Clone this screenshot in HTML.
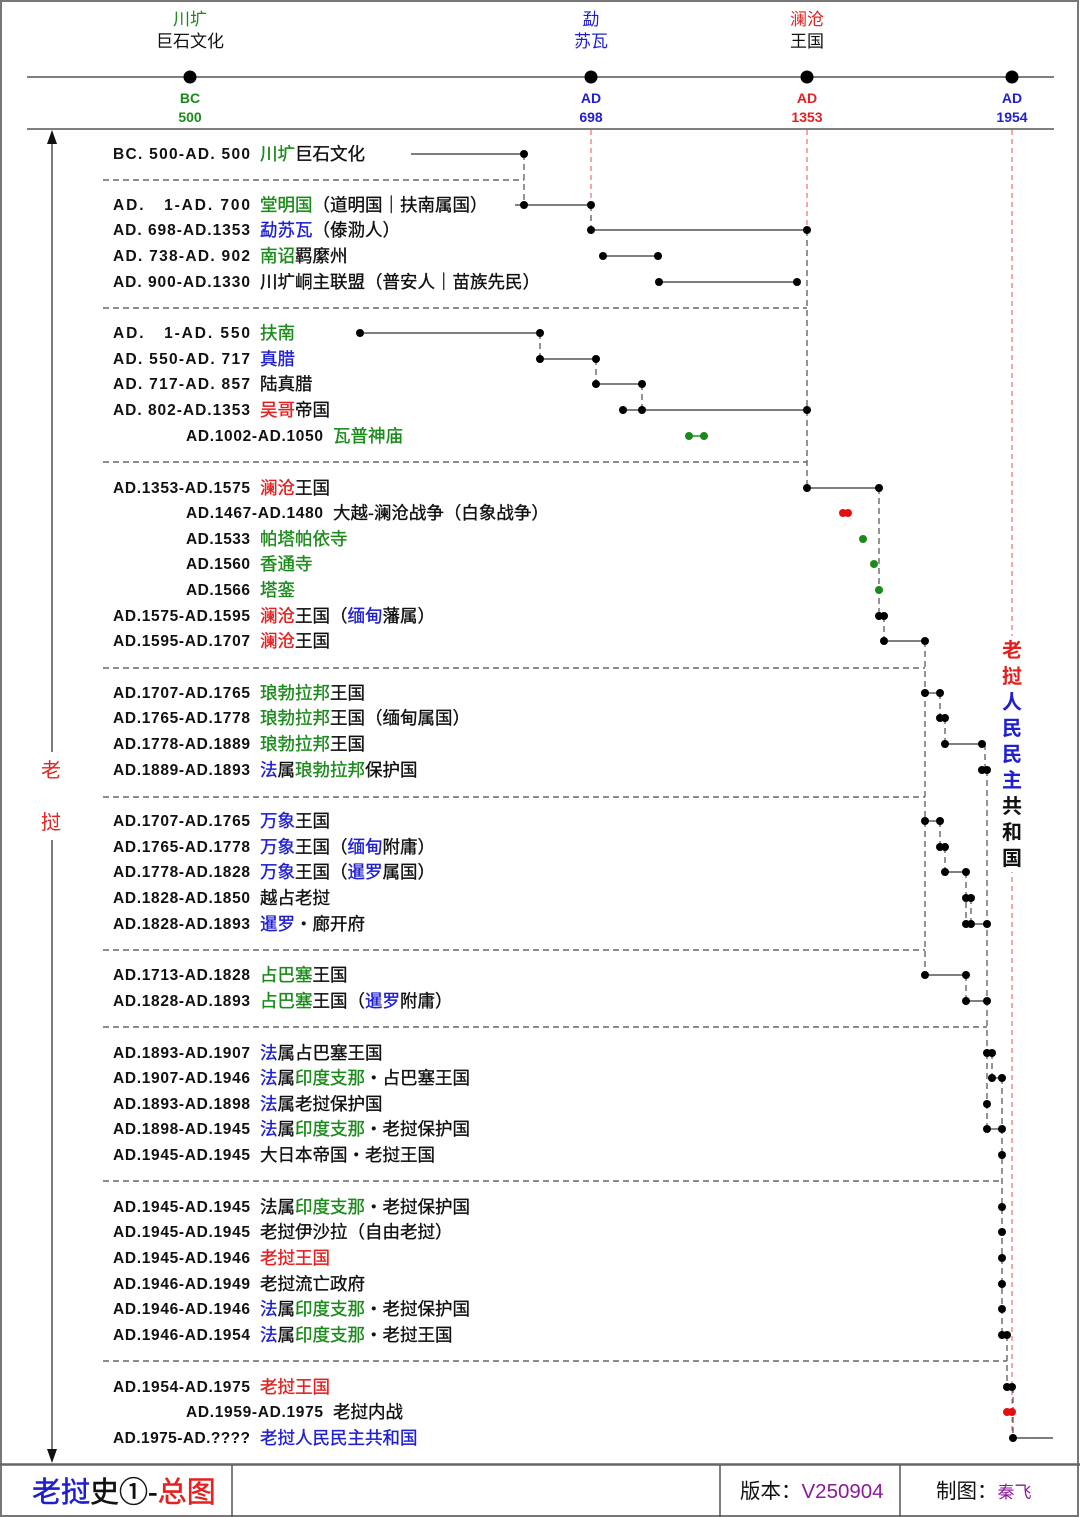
<!DOCTYPE html>
<html><head><meta charset="utf-8"><style>
html,body{margin:0;padding:0;background:#fff}
svg{display:block}
text{font-family:"Liberation Sans","Noto Sans CJK SC",sans-serif;}
.d{font-size:15.5px;fill:#111;font-weight:bold}
.n{font-size:17.5px;fill:#111;stroke-width:0.35}
.n .g,.n.g{stroke:#1a8a1a}.n .b,.n.b{stroke:#1f1fd0}.n .r,.n.r{stroke:#e42020}.n .k,.n.k{stroke:#111}
.g{fill:#1a8a1a}.b{fill:#1f1fd0}.r{fill:#e42020}.k{fill:#111}
.ln{stroke:#555;stroke-width:1.4}
.ds{stroke:#666;stroke-width:1.4;stroke-dasharray:6,4;fill:none}
.rd{stroke:#e05050;stroke-width:1;stroke-dasharray:5,4}
</style></head><body>
<svg width="1080" height="1517" viewBox="0 0 1080 1517" xmlns="http://www.w3.org/2000/svg">
<rect x="1" y="1" width="1077" height="1515" fill="#fff" stroke="#777" stroke-width="2"/>
<line x1="27" y1="77" x2="1054" y2="77" class="ln"/>
<line x1="27" y1="129" x2="1054" y2="129" class="ln"/>
<g fill="#000"><circle cx="190" cy="77" r="6.5"/><circle cx="591" cy="77" r="6.5"/><circle cx="807" cy="77" r="6.5"/><circle cx="1012" cy="77" r="6.5"/></g>
<g font-size="17" text-anchor="middle">
<text x="190" y="25" class="g">川圹</text><text x="190" y="47" class="k">巨石文化</text>
<text x="591" y="25" class="b">勐</text><text x="591" y="47" class="b">苏瓦</text>
<text x="807" y="25" class="r">澜沧</text><text x="807" y="47" class="k">王国</text>
</g>
<g font-size="14" text-anchor="middle" font-weight="bold">
<text x="190" y="103" class="g">BC</text><text x="190" y="122" class="g">500</text>
<text x="591" y="103" class="b">AD</text><text x="591" y="122" class="b">698</text>
<text x="807" y="103" class="r">AD</text><text x="807" y="122" class="r">1353</text>
<text x="1012" y="103" class="b">AD</text><text x="1012" y="122" class="b">1954</text>
</g>
<line x1="591" y1="130" x2="591" y2="205" class="rd"/>
<line x1="807" y1="130" x2="807" y2="230" class="rd"/>
<line x1="1012" y1="130" x2="1012" y2="1438" class="rd"/>
<line x1="52" y1="140" x2="52" y2="1452" stroke="#444" stroke-width="1.4"/>
<polygon points="52,130 47,144 57,144" fill="#111"/>
<polygon points="52,1463 47,1449 57,1449" fill="#111"/>
<rect x="38" y="752" width="28" height="88" fill="#fff"/>
<g font-size="20" class="r" text-anchor="middle"><text x="51" y="777">老</text><text x="51" y="829">挝</text></g>
<rect x="1000" y="636" width="26" height="236" fill="#fff"/>
<g font-size="20" text-anchor="middle" font-weight="bold">
<text x="1012" y="657" class="r">老</text><text x="1012" y="683" class="r">挝</text>
<text x="1012" y="709" class="b">人</text><text x="1012" y="735" class="b">民</text><text x="1012" y="761" class="b">民</text><text x="1012" y="787" class="b">主</text>
<text x="1012" y="813" class="k">共</text><text x="1012" y="839" class="k">和</text><text x="1012" y="865" class="k">国</text>
</g>
<g class="ds">
<path d="M103 180H524"/><path d="M103 308H807"/><path d="M103 462H807"/><path d="M103 668H925"/>
<path d="M103 797H925"/><path d="M103 950H925"/><path d="M103 1027H987"/><path d="M103 1181H1002"/><path d="M103 1361H1007"/>
<path d="M524 154V205"/><path d="M591 205V230"/><path d="M807 230V488"/>
<path d="M540 333V359"/><path d="M596 359V384"/><path d="M642 384V410"/>
<path d="M879 488V616"/><path d="M884 616V641"/><path d="M925 641V975"/>
<path d="M940 693V718"/><path d="M945 718V744"/><path d="M985 744V770"/><path d="M987 770V1053"/>
<path d="M940 821V847"/><path d="M945 847V872"/><path d="M966 872V924"/><path d="M971 898V924"/><path d="M966 975V1001"/>
<path d="M987 1053V1129"/><path d="M992 1053V1078"/><path d="M1002 1078V1335"/><path d="M1007 1335V1387"/><path d="M1013 1387V1438"/>
</g>
<g class="ln">
<path d="M411 154H524"/><path d="M515 205H591"/><path d="M591 230H807"/><path d="M603 256H658"/><path d="M659 282H797"/>
<path d="M360 333H540"/><path d="M540 359H596"/><path d="M596 384H642"/><path d="M623 410H807"/><path d="M689 436H704" stroke="#1a8a1a"/>
<path d="M807 488H879"/><path d="M884 641H925"/>
<path d="M925 693H940"/><path d="M945 744H985"/>
<path d="M925 821H940"/><path d="M945 872H966"/><path d="M971 924H987"/>
<path d="M925 975H966"/><path d="M966 1001H987"/>
<path d="M992 1078H1002"/><path d="M987 1129H1002"/><path d="M1013 1438H1053"/>
</g>
<g fill="#000">
<circle cx="524" cy="154" r="4"/>
<circle cx="524" cy="205" r="4"/><circle cx="591" cy="205" r="4"/>
<circle cx="591" cy="230" r="4"/><circle cx="807" cy="230" r="4"/>
<circle cx="603" cy="256" r="4"/><circle cx="658" cy="256" r="4"/>
<circle cx="659" cy="282" r="4"/><circle cx="797" cy="282" r="4"/>
<circle cx="360" cy="333" r="4"/><circle cx="540" cy="333" r="4"/>
<circle cx="540" cy="359" r="4"/><circle cx="596" cy="359" r="4"/>
<circle cx="596" cy="384" r="4"/><circle cx="642" cy="384" r="4"/>
<circle cx="623" cy="410" r="4"/><circle cx="642" cy="410" r="4"/><circle cx="807" cy="410" r="4"/>
<circle cx="807" cy="488" r="4"/><circle cx="879" cy="488" r="4"/>
<circle cx="879" cy="616" r="4"/><circle cx="884" cy="616" r="4"/>
<circle cx="884" cy="641" r="4"/><circle cx="925" cy="641" r="4"/>
<circle cx="925" cy="693" r="4"/><circle cx="940" cy="693" r="4"/>
<circle cx="940" cy="718" r="4"/><circle cx="945" cy="718" r="4"/>
<circle cx="945" cy="744" r="4"/><circle cx="982" cy="744" r="4"/>
<circle cx="982" cy="770" r="4"/><circle cx="987" cy="770" r="4"/>
<circle cx="925" cy="821" r="4"/><circle cx="940" cy="821" r="4"/>
<circle cx="940" cy="847" r="4"/><circle cx="945" cy="847" r="4"/>
<circle cx="945" cy="872" r="4"/><circle cx="966" cy="872" r="4"/>
<circle cx="966" cy="898" r="4"/><circle cx="971" cy="898" r="4"/>
<circle cx="966" cy="924" r="4"/><circle cx="971" cy="924" r="4"/><circle cx="987" cy="924" r="4"/>
<circle cx="925" cy="975" r="4"/><circle cx="966" cy="975" r="4"/>
<circle cx="966" cy="1001" r="4"/><circle cx="987" cy="1001" r="4"/>
<circle cx="987" cy="1053" r="4"/><circle cx="992" cy="1053" r="4"/>
<circle cx="992" cy="1078" r="4"/><circle cx="1002" cy="1078" r="4"/>
<circle cx="987" cy="1104" r="4"/>
<circle cx="987" cy="1129" r="4"/><circle cx="1002" cy="1129" r="4"/>
<circle cx="1002" cy="1155" r="4"/>
<circle cx="1002" cy="1207" r="4"/><circle cx="1002" cy="1232" r="4"/><circle cx="1002" cy="1258" r="4"/><circle cx="1002" cy="1284" r="4"/><circle cx="1002" cy="1309" r="4"/>
<circle cx="1002" cy="1335" r="4"/><circle cx="1007" cy="1335" r="4"/>
<circle cx="1007" cy="1387" r="4"/><circle cx="1012" cy="1387" r="4"/>
<circle cx="1013" cy="1438" r="4"/>
</g>
<g fill="#1a8a1a"><circle cx="689" cy="436" r="4"/><circle cx="704" cy="436" r="4"/><circle cx="863" cy="539" r="4"/><circle cx="874" cy="564" r="4"/><circle cx="879" cy="590" r="4"/></g>
<g fill="#e41010"><circle cx="843" cy="513" r="4"/><circle cx="848" cy="513" r="4"/><circle cx="1007" cy="1412" r="4"/><circle cx="1012" cy="1412" r="4"/></g>

<g class="d">
<text x="113" y="159" textLength="137" lengthAdjust="spacing" xml:space="preserve">BC. 500-AD. 500</text>
<text x="113" y="210" textLength="137" lengthAdjust="spacing" xml:space="preserve">AD.   1-AD. 700</text>
<text x="113" y="235" textLength="137" lengthAdjust="spacing" xml:space="preserve">AD. 698-AD.1353</text>
<text x="113" y="261" textLength="137" lengthAdjust="spacing" xml:space="preserve">AD. 738-AD. 902</text>
<text x="113" y="287" textLength="137" lengthAdjust="spacing" xml:space="preserve">AD. 900-AD.1330</text>
<text x="113" y="338" textLength="137" lengthAdjust="spacing" xml:space="preserve">AD.   1-AD. 550</text>
<text x="113" y="364" textLength="137" lengthAdjust="spacing" xml:space="preserve">AD. 550-AD. 717</text>
<text x="113" y="389" textLength="137" lengthAdjust="spacing" xml:space="preserve">AD. 717-AD. 857</text>
<text x="113" y="415" textLength="137" lengthAdjust="spacing" xml:space="preserve">AD. 802-AD.1353</text>
<text x="186" y="441" textLength="137" lengthAdjust="spacing">AD.1002-AD.1050</text>
<text x="113" y="493" textLength="137" lengthAdjust="spacing">AD.1353-AD.1575</text>
<text x="186" y="518" textLength="137" lengthAdjust="spacing">AD.1467-AD.1480</text>
<text x="186" y="544" textLength="64" lengthAdjust="spacing">AD.1533</text>
<text x="186" y="569" textLength="64" lengthAdjust="spacing">AD.1560</text>
<text x="186" y="595" textLength="64" lengthAdjust="spacing">AD.1566</text>
<text x="113" y="621" textLength="137" lengthAdjust="spacing">AD.1575-AD.1595</text>
<text x="113" y="646" textLength="137" lengthAdjust="spacing">AD.1595-AD.1707</text>
<text x="113" y="698" textLength="137" lengthAdjust="spacing">AD.1707-AD.1765</text>
<text x="113" y="723" textLength="137" lengthAdjust="spacing">AD.1765-AD.1778</text>
<text x="113" y="749" textLength="137" lengthAdjust="spacing">AD.1778-AD.1889</text>
<text x="113" y="775" textLength="137" lengthAdjust="spacing">AD.1889-AD.1893</text>
<text x="113" y="826" textLength="137" lengthAdjust="spacing">AD.1707-AD.1765</text>
<text x="113" y="852" textLength="137" lengthAdjust="spacing">AD.1765-AD.1778</text>
<text x="113" y="877" textLength="137" lengthAdjust="spacing">AD.1778-AD.1828</text>
<text x="113" y="903" textLength="137" lengthAdjust="spacing">AD.1828-AD.1850</text>
<text x="113" y="929" textLength="137" lengthAdjust="spacing">AD.1828-AD.1893</text>
<text x="113" y="980" textLength="137" lengthAdjust="spacing">AD.1713-AD.1828</text>
<text x="113" y="1006" textLength="137" lengthAdjust="spacing">AD.1828-AD.1893</text>
<text x="113" y="1058" textLength="137" lengthAdjust="spacing">AD.1893-AD.1907</text>
<text x="113" y="1083" textLength="137" lengthAdjust="spacing">AD.1907-AD.1946</text>
<text x="113" y="1109" textLength="137" lengthAdjust="spacing">AD.1893-AD.1898</text>
<text x="113" y="1134" textLength="137" lengthAdjust="spacing">AD.1898-AD.1945</text>
<text x="113" y="1160" textLength="137" lengthAdjust="spacing">AD.1945-AD.1945</text>
<text x="113" y="1212" textLength="137" lengthAdjust="spacing">AD.1945-AD.1945</text>
<text x="113" y="1237" textLength="137" lengthAdjust="spacing">AD.1945-AD.1945</text>
<text x="113" y="1263" textLength="137" lengthAdjust="spacing">AD.1945-AD.1946</text>
<text x="113" y="1289" textLength="137" lengthAdjust="spacing">AD.1946-AD.1949</text>
<text x="113" y="1314" textLength="137" lengthAdjust="spacing">AD.1946-AD.1946</text>
<text x="113" y="1340" textLength="137" lengthAdjust="spacing">AD.1946-AD.1954</text>
<text x="113" y="1392" textLength="137" lengthAdjust="spacing">AD.1954-AD.1975</text>
<text x="186" y="1417" textLength="137" lengthAdjust="spacing">AD.1959-AD.1975</text>
<text x="113" y="1443" textLength="137" lengthAdjust="spacing">AD.1975-AD.????</text>
</g>
<g class="n">
<text x="260" y="160"><tspan class="g">川圹</tspan><tspan class="k">巨石文化</tspan></text>
<text x="260" y="211"><tspan class="g">堂明国</tspan><tspan class="k">（道明国｜扶南属国）</tspan></text>
<text x="260" y="236"><tspan class="b">勐苏瓦</tspan><tspan class="k">（傣泐人）</tspan></text>
<text x="260" y="262"><tspan class="g">南诏</tspan><tspan class="k">羁縻州</tspan></text>
<text x="260" y="288" class="k">川圹峒主联盟（普安人｜苗族先民）</text>
<text x="260" y="339" class="g">扶南</text>
<text x="260" y="365" class="b">真腊</text>
<text x="260" y="390" class="k">陆真腊</text>
<text x="260" y="416"><tspan class="r">吴哥</tspan><tspan class="k">帝国</tspan></text>
<text x="333" y="442" class="g">瓦普神庙</text>
<text x="260" y="494"><tspan class="r">澜沧</tspan><tspan class="k">王国</tspan></text>
<text x="333" y="519" class="k">大越-澜沧战争（白象战争）</text>
<text x="260" y="545" class="g">帕塔帕依寺</text>
<text x="260" y="570" class="g">香通寺</text>
<text x="260" y="596" class="g">塔銮</text>
<text x="260" y="622"><tspan class="r">澜沧</tspan><tspan class="k">王国（</tspan><tspan class="b">缅甸</tspan><tspan class="k">藩属）</tspan></text>
<text x="260" y="647"><tspan class="r">澜沧</tspan><tspan class="k">王国</tspan></text>
<text x="260" y="699"><tspan class="g">琅勃拉邦</tspan><tspan class="k">王国</tspan></text>
<text x="260" y="724"><tspan class="g">琅勃拉邦</tspan><tspan class="k">王国（缅甸属国）</tspan></text>
<text x="260" y="750"><tspan class="g">琅勃拉邦</tspan><tspan class="k">王国</tspan></text>
<text x="260" y="776"><tspan class="b">法</tspan><tspan class="k">属</tspan><tspan class="g">琅勃拉邦</tspan><tspan class="k">保护国</tspan></text>
<text x="260" y="827"><tspan class="b">万象</tspan><tspan class="k">王国</tspan></text>
<text x="260" y="853"><tspan class="b">万象</tspan><tspan class="k">王国（</tspan><tspan class="b">缅甸</tspan><tspan class="k">附庸）</tspan></text>
<text x="260" y="878"><tspan class="b">万象</tspan><tspan class="k">王国（</tspan><tspan class="b">暹罗</tspan><tspan class="k">属国）</tspan></text>
<text x="260" y="904" class="k">越占老挝</text>
<text x="260" y="930"><tspan class="b">暹罗</tspan><tspan class="k">・廊开府</tspan></text>
<text x="260" y="981"><tspan class="g">占巴塞</tspan><tspan class="k">王国</tspan></text>
<text x="260" y="1007"><tspan class="g">占巴塞</tspan><tspan class="k">王国（</tspan><tspan class="b">暹罗</tspan><tspan class="k">附庸）</tspan></text>
<text x="260" y="1059"><tspan class="b">法</tspan><tspan class="k">属占巴塞王国</tspan></text>
<text x="260" y="1084"><tspan class="b">法</tspan><tspan class="k">属</tspan><tspan class="g">印度支那</tspan><tspan class="k">・占巴塞王国</tspan></text>
<text x="260" y="1110"><tspan class="b">法</tspan><tspan class="k">属老挝保护国</tspan></text>
<text x="260" y="1135"><tspan class="b">法</tspan><tspan class="k">属</tspan><tspan class="g">印度支那</tspan><tspan class="k">・老挝保护国</tspan></text>
<text x="260" y="1161" class="k">大日本帝国・老挝王国</text>
<text x="260" y="1213"><tspan class="k">法属</tspan><tspan class="g">印度支那</tspan><tspan class="k">・老挝保护国</tspan></text>
<text x="260" y="1238" class="k">老挝伊沙拉（自由老挝）</text>
<text x="260" y="1264" class="r">老挝王国</text>
<text x="260" y="1290" class="k">老挝流亡政府</text>
<text x="260" y="1315"><tspan class="b">法</tspan><tspan class="k">属</tspan><tspan class="g">印度支那</tspan><tspan class="k">・老挝保护国</tspan></text>
<text x="260" y="1341"><tspan class="b">法</tspan><tspan class="k">属</tspan><tspan class="g">印度支那</tspan><tspan class="k">・老挝王国</tspan></text>
<text x="260" y="1393" class="r">老挝王国</text>
<text x="333" y="1418" class="k">老挝内战</text>
<text x="260" y="1444" class="b">老挝人民民主共和国</text>
</g>
<line x1="0" y1="1464.5" x2="1080" y2="1464.5" stroke="#666" stroke-width="2.5"/>
<line x1="232" y1="1465" x2="232" y2="1517" stroke="#555" stroke-width="1.5"/>
<line x1="720" y1="1465" x2="720" y2="1517" stroke="#555" stroke-width="1.5"/>
<line x1="900" y1="1465" x2="900" y2="1517" stroke="#555" stroke-width="1.5"/>
<text x="32" y="1502" font-size="29" stroke-width="0.5"><tspan class="b" stroke="#1f1fd0">老挝</tspan><tspan class="k" stroke="#111">史①-</tspan><tspan class="r" stroke="#e42020">总图</tspan></text>
<text x="740" y="1498" font-size="20.5"><tspan class="k">版本：</tspan><tspan fill="#8a1a9a">V250904</tspan></text>
<text x="936" y="1498" font-size="20.5"><tspan class="k">制图：</tspan><tspan fill="#8a1a9a" font-size="17">秦飞</tspan></text>
</svg>
</body></html>
